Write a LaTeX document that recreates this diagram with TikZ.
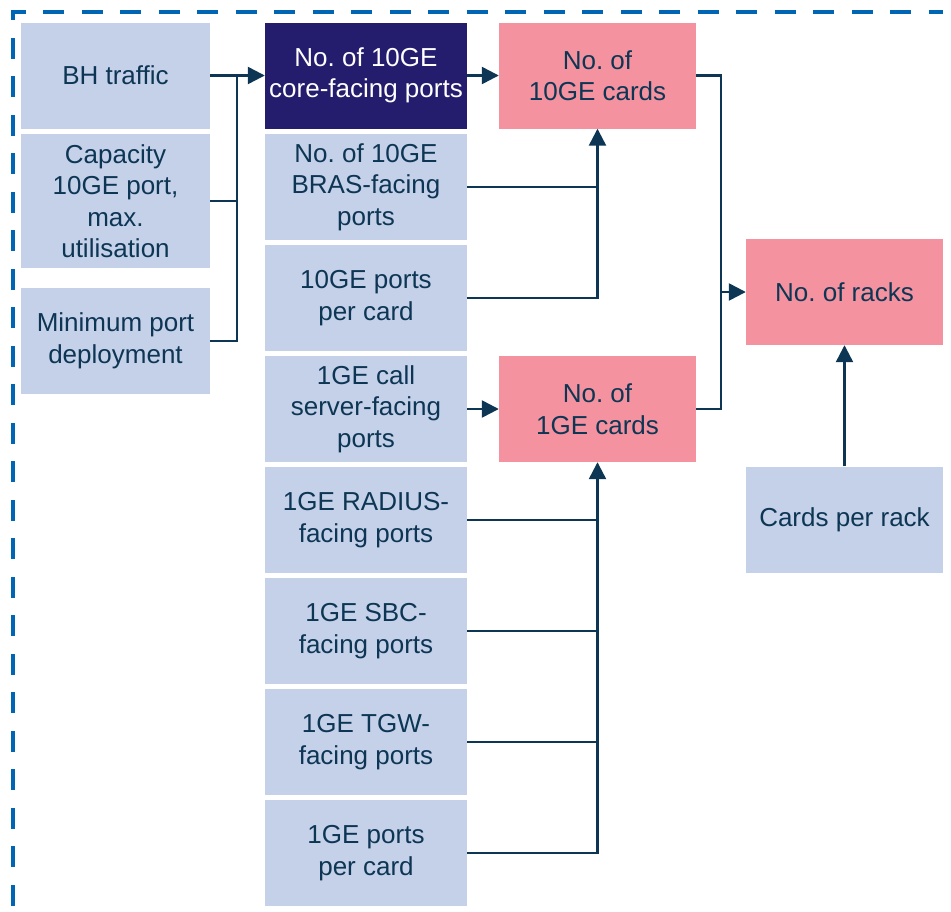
\documentclass[tikz,border=0pt]{standalone}
\usepackage{fontspec}
\setmainfont{Liberation Sans}
\usetikzlibrary{arrows.meta}
\definecolor{boxblue}{HTML}{C5D0E9}
\definecolor{boxpink}{HTML}{F4929F}
\definecolor{boxnavy}{HTML}{241D6E}
\definecolor{inkblue}{HTML}{0D3654}
\definecolor{dashblue}{HTML}{0066B3}
\frenchspacing
\begin{document}
\begin{tikzpicture}[x=1pt, y=-1pt,
    every node/.style={font=\fontsize{26}{31.5}\selectfont, text=inkblue, align=center, inner sep=0pt},
    inbox/.style={fill=boxblue, minimum height=106pt},
    outbox/.style={fill=boxpink, minimum width=197pt, minimum height=106pt},
    link/.style={draw=inkblue, line width=2.4pt},
    arr/.style={link, -{Triangle[length=17pt, width=17pt]}}]
    \useasboundingbox (0,0) rectangle (951,911);

    % Dashed frame
    \draw[dashblue, line width=4pt, dash pattern=on 21pt off 17.5pt, dash phase=33pt]
        (12.5,911) -- (12.5,12) -- (943,12);

    % Inputs on the left
    \node[inbox, minimum width=189pt] (bh) at (115.5,75.5) {BH traffic};
    \node[inbox, minimum width=189pt, minimum height=134pt] (cap) at (115.5,201) {Capacity\\10GE port,\\max.\\utilisation};
    \node[inbox, minimum width=189pt] (minp) at (115.5,341) {Minimum port\\deployment};

    % Port counts
    \node[inbox, fill=boxnavy, text=white, minimum width=202pt] (core) at (366,75.5) {No. of 10GE\\core-facing ports};
    \foreach \name/\y/\txt in {bras/187/{No. of 10GE\\BRAS-facing\\ports},
                               pp10/298/{10GE ports\\per card},
                               call/409/{1GE call\\server-facing\\ports},
                               radius/520/{1GE RADIUS-\\facing ports},
                               sbc/631/{1GE SBC-\\facing ports},
                               tgw/742/{1GE TGW-\\facing ports},
                               pp1/853/{1GE ports\\per card}} {
        \node[inbox, minimum width=202pt] (\name) at (366,\y) {\txt};
    }

    % Results
    \node[outbox] (c10) at (597.5,75.5) {No. of\\10GE cards};
    \node[outbox] (c1) at (597.5,409) {No. of\\1GE cards};
    \node[outbox] (racks) at (844.5,292) {No. of racks};
    \node[inbox, minimum width=197pt] (cpr) at (844.5,519.5) {Cards per rack};

    % Connectors
    \coordinate (jl) at (237,75.5);
    \draw[arr] (bh) -- (core);
    \draw[link] (cap.east) -- (cap.east -| jl);
    \draw[link] (minp.east) -| (jl);

    \draw[arr] (core) -- (c10);
    \draw[arr] (pp10.east) -| (c10.south);
    \draw[link] (bras.east) -- (bras.east -| c10.south);

    \draw[arr] (call) -- (c1);
    \draw[arr] (pp1.east) -| (c1.south);
    \foreach \n in {radius,sbc,tgw}
        \draw[link] (\n.east) -- (\n.east -| c1.south);

    \coordinate (jr) at (721,292);
    \draw[link] (c10.east) -| (jr);
    \draw[link] (c1.east) -| (jr);
    \draw[arr] (jr) -- (racks);
    \draw[arr] (cpr) -- (racks);
\end{tikzpicture}
\end{document}
